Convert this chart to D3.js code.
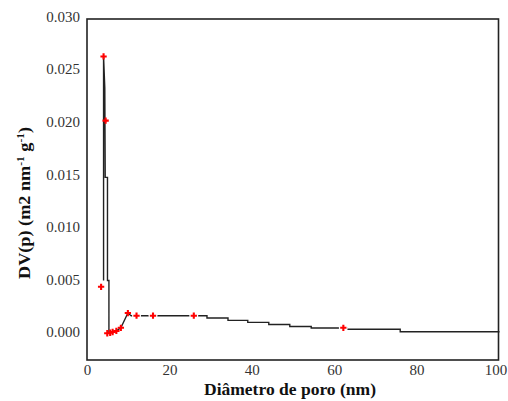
<!DOCTYPE html>
<html>
<head>
<meta charset="utf-8">
<script src="https://cdn.jsdelivr.net/npm/d3@7"></script>
<style>
html,body{margin:0;padding:0;background:#fff;}
svg{display:block;}
</style>
</head>
<body>
<svg id="chart" width="508" height="401"></svg>
<script>
// Line (head: linear segments through spike and low-diameter region)
const headX = [3.9, 3.9, 4.2, 4.3, 4.85, 4.85, 5.2, 5.2, 5.5, 6.1, 7.0, 8.1, 9.8, 10.6, 25.8];
const headY = [0.0049, 0.0262, 0.0232, 0.0147, 0.0147, 0.0049, 0.0049, -0.0001, -0.00007, 0.0, 0.0001, 0.0004, 0.0018, 0.00155, 0.00155];
// Line (tail: stepped decrease)
const tailX = [25.8, 29.0, 34.1, 38.9, 44.0, 49.1, 54.3, 63.0, 75.9, 100];
const tailY = [0.00155, 0.00133, 0.00111, 0.00092, 0.00071, 0.00052, 0.00038, 0.00026, 0.00003, 0.00003];
// Red markers
const markX = [3.3, 3.9, 4.4, 4.8, 5.5, 6.1, 7.0, 8.1, 9.8, 11.9, 15.9, 25.8, 62.1];
const markY = [0.0043, 0.0262, 0.0201, -0.00012, -0.00007, 0.0, 0.0001, 0.0004, 0.0018, 0.00155, 0.00155, 0.00155, 0.0004];
// Axis ticks
const xTicks = [0, 20, 40, 60, 80, 100];
const yTicks = [0, 0.005, 0.010, 0.015, 0.020, 0.025, 0.030];
const xTitle = "Diâmetro de poro (nm)";

const svg = d3.select("#chart");
const frame = {left: 87, right: 498.5, top: 19, bottom: 360};
const x = d3.scaleLinear().domain([0, 100]).range([87.5, 499.5]);
const y = d3.scaleLinear().domain([0, 0.03]).range([332, 16.5]);

const font = "'Liberation Serif','Times New Roman',serif";

// frame
svg.append("rect")
  .attr("x", frame.left).attr("y", frame.top)
  .attr("width", frame.right - frame.left).attr("height", frame.bottom - frame.top)
  .attr("fill", "none").attr("stroke", "#222").attr("stroke-width", 1.6);

// y tick labels
svg.append("g").selectAll("text").data(yTicks).join("text")
  .attr("x", 80).attr("y", d => y(d)).attr("dy", "0.35em")
  .attr("text-anchor", "end")
  .attr("font-family", font).attr("font-size", 15).attr("fill", "#333")
  .text(d => d3.format(".3f")(d));

// x tick labels
svg.append("g").selectAll("text").data(xTicks).join("text")
  .attr("x", d => Math.min(x(d), 496)).attr("y", 375)
  .attr("text-anchor", "middle")
  .attr("font-family", font).attr("font-size", 15).attr("fill", "#333")
  .text(d => d);

// titles
svg.append("text")
  .attr("x", 290).attr("y", 395).attr("text-anchor", "middle")
  .attr("font-family", font).attr("font-size", 16).attr("font-weight", "bold").attr("fill", "#111")
  .attr("textLength", 172).attr("lengthAdjust", "spacingAndGlyphs")
  .text(xTitle);

const yt = svg.append("text")
  .attr("transform", "translate(30,203) rotate(-90)")
  .attr("text-anchor", "middle")
  .attr("textLength", 152).attr("lengthAdjust", "spacingAndGlyphs")
  .attr("font-family", font).attr("font-size", 16).attr("font-weight", "bold").attr("fill", "#111");
yt.append("tspan").text("DV(p) (m2 nm");
yt.append("tspan").attr("dy", -6).attr("font-size", 10).text("-1");
yt.append("tspan").attr("dy", 6).text(" g");
yt.append("tspan").attr("dy", -6).attr("font-size", 10).text("-1");
yt.append("tspan").attr("dy", 6).text(")");

// lines
const head = headX.map((v, i) => [v, headY[i]]);
const tail = tailX.map((v, i) => [v, tailY[i]]);
const lineLin = d3.line().x(d => x(d[0])).y(d => y(d[1]));
const lineStep = d3.line().x(d => x(d[0])).y(d => y(d[1])).curve(d3.curveStepAfter);
svg.append("path").attr("d", lineLin(head))
  .attr("fill", "none").attr("stroke", "#222").attr("stroke-width", 1.4);
svg.append("path").attr("d", lineStep(tail))
  .attr("fill", "none").attr("stroke", "#222").attr("stroke-width", 1.4);

// markers (white halo on the flat part, where the line is interrupted)
const marks = markX.map((v, i) => [v, markY[i], i]);
svg.append("g").selectAll("circle").data(marks.filter(d => d[2] >= 9)).join("circle")
  .attr("cx", d => x(d[0])).attr("cy", d => y(d[1])).attr("r", 4.5)
  .attr("fill", "#fff");
const plus = d3.symbol().type(d3.symbolCross).size(22);
svg.append("g").selectAll("path").data(marks).join("path")
  .attr("transform", d => `translate(${x(d[0])},${y(d[1])})`)
  .attr("d", plus)
  .attr("fill", "#ff0000");
</script>
</body>
</html>
